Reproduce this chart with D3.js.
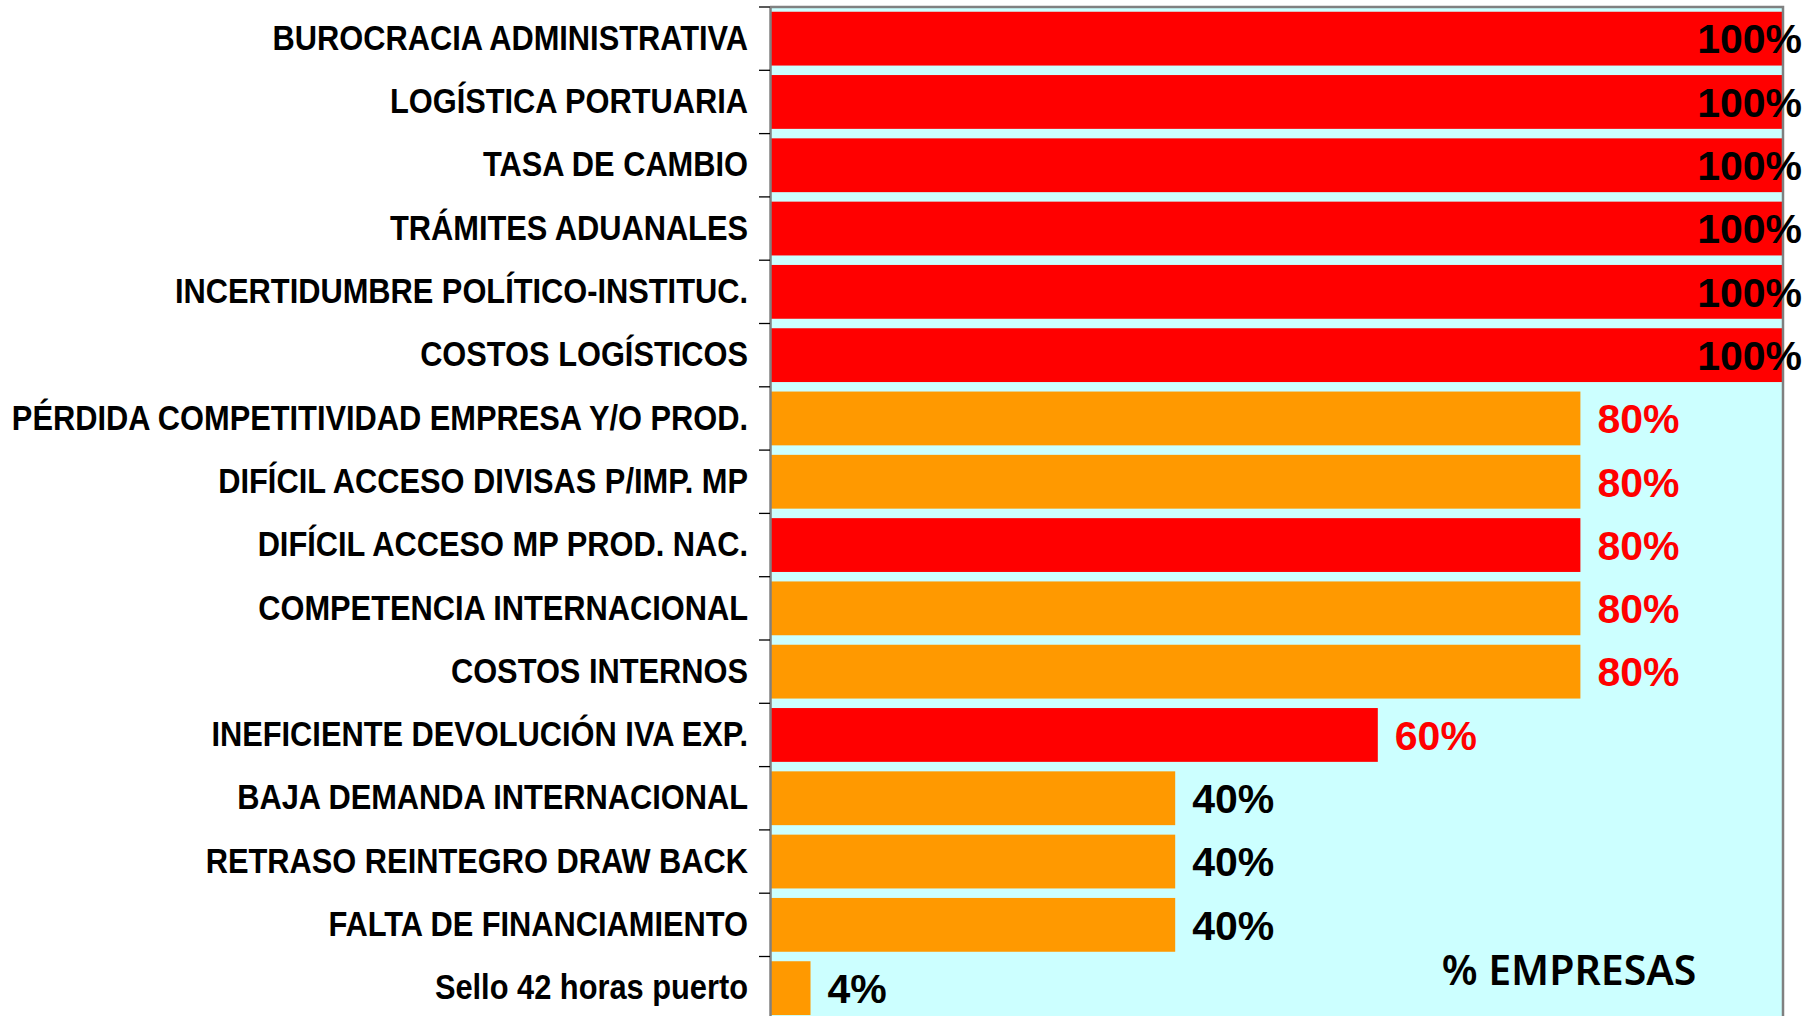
<!DOCTYPE html>
<html>
<head>
<meta charset="utf-8">
<script src="https://cdn.jsdelivr.net/npm/d3@7"></script>
<style>
  body { margin: 0; background: #ffffff; }
  svg { display: block; }
</style>
</head>
<body>
<div id="chart"></div>
<script>
// categories, top to bottom
const categorias = [
  "BUROCRACIA ADMINISTRATIVA",
  "LOGÍSTICA PORTUARIA",
  "TASA DE CAMBIO",
  "TRÁMITES ADUANALES",
  "INCERTIDUMBRE POLÍTICO-INSTITUC.",
  "COSTOS LOGÍSTICOS",
  "PÉRDIDA COMPETITIVIDAD EMPRESA Y/O PROD.",
  "DIFÍCIL ACCESO DIVISAS P/IMP. MP",
  "DIFÍCIL ACCESO MP PROD. NAC.",
  "COMPETENCIA INTERNACIONAL",
  "COSTOS INTERNOS",
  "INEFICIENTE DEVOLUCIÓN IVA EXP.",
  "BAJA DEMANDA INTERNACIONAL",
  "RETRASO REINTEGRO DRAW BACK",
  "FALTA DE FINANCIAMIENTO",
  "Sello 42 horas puerto"
];

// % de empresas
const porcentajes = [100, 100, 100, 100, 100, 100, 80, 80, 80, 80, 80, 60, 40, 40, 40, 4];

// grupo de cada barra (define el color)
const grupos = ["A", "A", "A", "A", "A", "A", "B", "B", "A", "B", "B", "A", "B", "B", "B", "B"];

const width = 1816, height = 1016;
const margin = { top: 7, right: 33, left: 770 };
const step = 63.3;
const plotBottom = margin.top + step * categorias.length;
const narrow = 0.88; // no Arial Narrow installed, squeeze Liberation Sans instead

const svg = d3.select('#chart').append('svg')
  .attr('width', width)
  .attr('height', height);

const x = d3.scaleLinear()
  .domain([0, 100])
  .range([margin.left, width - margin.right]);

// band scale for the tick boundaries
const yBand = d3.scaleBand()
  .domain(categorias)
  .range([margin.top, plotBottom]);

// band scale for the bars
const y = d3.scaleBand()
  .domain(categorias)
  .range([margin.top, plotBottom])
  .paddingInner(0.15)
  .paddingOuter(0.075);

const color = d3.scaleOrdinal()
  .domain(["A", "B"])
  .range(["#ff0000", "#ff9900"]);

// plot background
svg.append('rect')
  .attr('x', x(0))
  .attr('y', margin.top)
  .attr('width', x(100) - x(0))
  .attr('height', plotBottom - margin.top)
  .attr('fill', '#ccffff');

// bars
svg.append('g').selectAll('rect')
  .data(categorias)
  .join('rect')
  .attr('x', x(0))
  .attr('y', d => y(d))
  .attr('width', (d, i) => x(porcentajes[i]) - x(0))
  .attr('height', y.bandwidth())
  .attr('fill', (d, i) => color(grupos[i]));

// plot border (top and right)
svg.append('path')
  .attr('d', `M${x(0)},${margin.top}H${x(100)}V${plotBottom}`)
  .attr('fill', 'none')
  .attr('stroke', '#808080')
  .attr('stroke-width', 2.5);

// category axis: labels at band centers
const axis = svg.append('g')
  .attr('transform', `translate(${x(0)},0)`)
  .call(d3.axisLeft(yBand).tickSize(0));

axis.select('.domain')
  .attr('stroke', '#808080')
  .attr('stroke-width', 2.5);

axis.selectAll('text')
  .attr('fill', '#000')
  .attr('x', -22 / narrow)
  .attr('transform', `scale(${narrow},1)`)
  .style('font-family', '"Liberation Sans", Arial, sans-serif')
  .style('font-weight', 'bold')
  .style('font-size', '35px');

// tick marks at the band boundaries
svg.append('g').selectAll('line')
  .data(categorias)
  .join('line')
  .attr('x1', x(0) - 11)
  .attr('x2', x(0))
  .attr('y1', d => yBand(d))
  .attr('y2', d => yBand(d))
  .attr('stroke', '#000')
  .attr('stroke-width', 1.3);

// value labels
svg.append('g').selectAll('text')
  .data(categorias)
  .join('text')
  .attr('x', (d, i) => porcentajes[i] >= 100 ? x(porcentajes[i]) + 19 : x(porcentajes[i]) + 17)
  .attr('y', d => yBand(d) + yBand.bandwidth() / 2)
  .attr('dy', '0.36em')
  .attr('text-anchor', (d, i) => porcentajes[i] >= 100 ? 'end' : 'start')
  .attr('fill', (d, i) => (porcentajes[i] >= 60 && porcentajes[i] < 100) ? '#ff0000' : '#000000')
  .style('font-family', '"Liberation Sans", Arial, sans-serif')
  .style('font-weight', 'bold')
  .style('font-size', '41px')
  .text((d, i) => porcentajes[i] + '%');

// axis title inside the plot
svg.append('text')
  .attr('x', 1569)
  .attr('y', 985)
  .attr('text-anchor', 'middle')
  .style('font-family', '"Noto Sans", sans-serif')
  .style('font-weight', 600)
  .style('font-size', '41px')
  .attr('fill', '#000')
  .text('% EMPRESAS');
</script>
</body>
</html>
